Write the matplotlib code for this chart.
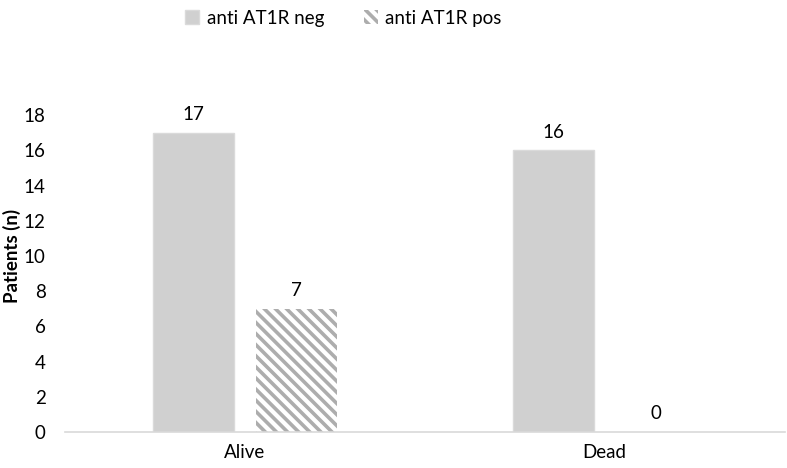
import numpy as np
import matplotlib.pyplot as plt

plt.rcParams['font.family'] = ['Lato', 'DejaVu Sans']
plt.rcParams['hatch.linewidth'] = 2.6
plt.rcParams['hatch.color'] = '#adadad'

categories = ['Alive', 'Dead']
neg_values = [17, 16]
pos_values = [7, 0]
series_names = ['anti AT1R neg', 'anti AT1R pos']

fig = plt.figure(figsize=(7.87, 4.68), dpi=100)
ax = fig.add_axes([0.0826, 0.077, 0.9144, 0.752])

x = np.arange(len(categories))
w = 0.225
off = 0.143

b1 = ax.bar(x - off, neg_values, w, color='#d0d0d0', edgecolor='#dadada', linewidth=1, label=series_names[0])
b2 = ax.bar(x + off, pos_values, w, color='white', edgecolor='#adadad', linewidth=0, hatch='\\\\\\', label=series_names[1])

# value labels above bars
for bars, vals in [(b1, neg_values), (b2, pos_values)]:
    for b, v in zip(bars, vals):
        ax.annotate(str(v), (b.get_x() + b.get_width() / 2, v), xytext=(0, 7),
                    textcoords='offset points', ha='center', va='bottom', fontsize=13.5)

ax.set_xlim(-0.5, 1.5)
ax.set_ylim(0, 20)
ax.set_yticks(range(0, 19, 2))
ax.set_xticks(x)
ax.set_xticklabels(categories)
ax.tick_params(axis='both', length=0, labelsize=13.5)
ax.tick_params(axis='x', pad=9)
ax.tick_params(axis='y', pad=14)
for s in ['top', 'right', 'left']:
    ax.spines[s].set_visible(False)
ax.spines['bottom'].set_color('#d9d9d9')
ax.spines['bottom'].set_linewidth(1.2)
ax.set_ylabel('Patients (n)', fontsize=13.5, fontweight='bold', labelpad=2)

fig.legend(loc='upper left', bbox_to_anchor=(0.214, 1.015), ncol=2, frameon=False,
           fontsize=13.5, handlelength=0.75, handleheight=0.75, columnspacing=2.1, handletextpad=0.4)

fig.savefig('out.png', dpi=100)
